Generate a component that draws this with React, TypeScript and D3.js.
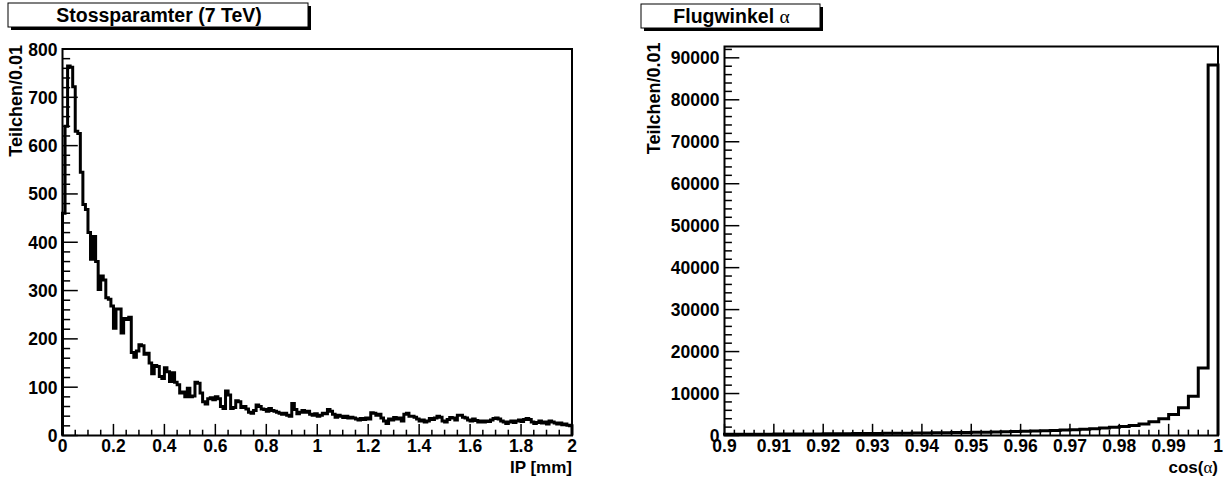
import React from 'react';
import * as d3 from 'd3';

// impact parameter histogram, 200 bins of 0.01 mm
const ipCounts = [
  460, 640, 765, 762, 722, 630, 625, 545, 478, 468,
  420, 365, 412, 360, 302, 330, 322, 285, 282, 268,
  222, 262, 262, 212, 242, 240, 245, 172, 162, 175,
  188, 186, 168, 170, 150, 128, 145, 143, 122, 118,
  140, 132, 112, 130, 110, 105, 88, 90, 80, 98,
  80, 82, 110, 108, 88, 70, 65, 76, 78, 74,
  80, 76, 60, 56, 92, 84, 56, 58, 72, 70,
  58, 60, 55, 48, 46, 52, 63, 60, 55, 54,
  50, 56, 52, 50, 48, 46, 44, 46, 42, 40,
  66, 54, 45, 48, 52, 48, 50, 44, 42, 45,
  40, 42, 46, 45, 54, 50, 44, 38, 42, 40,
  37, 40, 36, 38, 36, 34, 32, 35, 33, 36,
  34, 47, 46, 42, 44, 36, 30, 25, 34, 32,
  37, 34, 36, 30, 44, 46, 40, 40, 38, 34,
  30, 32, 28, 30, 35, 33, 36, 40, 38, 30,
  28, 33, 37, 36, 32, 42, 42, 38, 36, 32,
  30, 34, 31, 28, 30, 28, 30, 29, 32, 35,
  36, 34, 30, 28, 25, 28, 30, 27, 30, 32,
  29, 33, 35, 33, 28, 25, 27, 30, 26, 28,
  24, 30, 28, 26, 24, 26, 22, 24, 21, 20,
];
const ipRange = [0, 2];
const ipMax = 800;
const ipXTicks = [0, 0.2, 0.4, 0.6, 0.8, 1, 1.2, 1.4, 1.6, 1.8, 2];
const ipYTicks = [0, 100, 200, 300, 400, 500, 600, 700, 800];

// cos(alpha) histogram, 50 bins of 0.002
const cosCounts = [
  280, 290, 300, 310, 320, 330, 345, 360, 370, 385,
  400, 415, 430, 450, 470, 490, 510, 530, 555, 580,
  600, 630, 660, 690, 720, 760, 800, 840, 890, 940,
  1000, 1060, 1130, 1210, 1300, 1400, 1510, 1630, 1780, 1950,
  2150, 2400, 2720, 3250, 4000, 5000, 6600, 9350, 16100, 88300,
];
const cosRange = [0.9, 1];
const cosMax = 92700;
const cosXTicks = [0.9, 0.91, 0.92, 0.93, 0.94, 0.95, 0.96, 0.97, 0.98, 0.99, 1];
const cosYTicks = [0, 10000, 20000, 30000, 40000, 50000, 60000, 70000, 80000, 90000];

const FONT = "'Liberation Sans', Arial, Helvetica, sans-serif";
const SERIF = "'Liberation Serif', 'DejaVu Serif', serif";

type PanelProps = {
  counts: number[];
  range: number[];
  yMax: number;
  xTicks: number[];
  yTicks: number[];
  xMinorDiv: number;
  yMinorDiv: number;
  digits: number;
  frame: { left: number; right: number; top: number; bottom: number };
  yTitleX: number;
  xTitle: React.ReactNode;
  title: React.ReactNode;
  titleBox: { x0: number; y0: number; x1: number; y1: number };
};

function Panel(p: PanelProps) {
  const { frame } = p;
  const x = d3.scaleLinear().domain(p.range).range([frame.left, frame.right]);
  const y = d3.scaleLinear().domain([0, p.yMax]).range([frame.bottom, frame.top]);
  const binW = (p.range[1] - p.range[0]) / p.counts.length;

  // step outline like ROOT's default histogram drawing
  const path = d3.path();
  path.moveTo(x(p.range[0]), y(0));
  p.counts.forEach((c, i) => {
    path.lineTo(x(p.range[0] + i * binW), y(c));
    path.lineTo(x(p.range[0] + (i + 1) * binW), y(c));
  });
  path.lineTo(x(p.range[1]), y(0));

  const xMajor = 0.03 * (frame.bottom - frame.top);
  const yMajor = 0.03 * (frame.right - frame.left);

  const xStep = (p.xTicks[1] - p.xTicks[0]) / p.xMinorDiv;
  const xMinor: number[] = [];
  for (let k = 0; k < (p.xTicks.length - 1) * p.xMinorDiv; k++) {
    if (k % p.xMinorDiv !== 0) xMinor.push(p.xTicks[0] + k * xStep);
  }
  const yMajorStep = p.yTicks[1] - p.yTicks[0];
  const yStep = yMajorStep / p.yMinorDiv;
  const yMinor: number[] = [];
  for (let v = yStep; v <= p.yMax; v += yStep) {
    if (Math.abs(v / yMajorStep - Math.round(v / yMajorStep)) > 1e-6) yMinor.push(v);
  }
  const fmt = (v: number) => String(+v.toFixed(p.digits));

  const tb = p.titleBox;
  return (
    <g>
      {/* title pave with shadow */}
      <rect x={tb.x0 + 3} y={tb.y0 + 3} width={tb.x1 - tb.x0} height={tb.y1 - tb.y0} fill="#000" />
      <rect x={tb.x0} y={tb.y0} width={tb.x1 - tb.x0} height={tb.y1 - tb.y0} fill="#fff" stroke="#000" strokeWidth={1} />
      <text x={(tb.x0 + tb.x1) / 2 + 1} y={tb.y1 - 5.5} textAnchor="middle" fontFamily={FONT} fontWeight="bold" fontSize={19.5}>
        {p.title}
      </text>

      {/* histogram */}
      <path d={path.toString()} fill="none" stroke="#000" strokeWidth={3} strokeLinejoin="miter" />

      {/* frame */}
      <rect x={frame.left} y={frame.top} width={frame.right - frame.left} height={frame.bottom - frame.top} fill="none" stroke="#000" strokeWidth={2} />

      {/* x axis ticks */}
      {p.xTicks.map(t => (
        <line key={'xt' + t} x1={x(t)} x2={x(t)} y1={frame.bottom} y2={frame.bottom - xMajor} stroke="#000" strokeWidth={1.5} />
      ))}
      {xMinor.map(t => (
        <line key={'xm' + t} x1={x(t)} x2={x(t)} y1={frame.bottom} y2={frame.bottom - xMajor / 2} stroke="#000" strokeWidth={1.5} />
      ))}
      {p.xTicks.map(t => (
        <text key={'xl' + t} x={x(t)} y={frame.bottom + 16} textAnchor="middle" fontFamily={FONT} fontWeight="bold" fontSize={17.5}>
          {fmt(t)}
        </text>
      ))}

      {/* y axis ticks */}
      {p.yTicks.map(t => (
        <line key={'yt' + t} x1={frame.left} x2={frame.left + yMajor} y1={y(t)} y2={y(t)} stroke="#000" strokeWidth={1.5} />
      ))}
      {yMinor.map(t => (
        <line key={'ym' + t} x1={frame.left} x2={frame.left + yMajor / 2} y1={y(t)} y2={y(t)} stroke="#000" strokeWidth={1.5} />
      ))}
      {p.yTicks.map(t => (
        <text key={'yl' + t} x={frame.left - 5} y={y(t) + 6.5} textAnchor="end" fontFamily={FONT} fontWeight="bold" fontSize={17.5}>
          {t}
        </text>
      ))}

      {/* axis titles */}
      <text x={frame.right} y={frame.bottom + 37} textAnchor="end" fontFamily={FONT} fontWeight="bold" fontSize={17}>
        {p.xTitle}
      </text>
      <text
        transform={`translate(${p.yTitleX},${frame.top - 4}) rotate(-90)`}
        textAnchor="end"
        fontFamily={FONT}
        fontWeight="bold"
        fontSize={18}
      >
        Teilchen/0.01
      </text>
    </g>
  );
}

export default function App() {
  return (
    <svg width={1230} height={479} style={{ position: 'absolute', left: 0, top: 0, background: '#fff' }}>
      <Panel
        counts={ipCounts}
        range={ipRange}
        yMax={ipMax}
        xTicks={ipXTicks}
        yTicks={ipYTicks}
        xMinorDiv={4}
        yMinorDiv={5}
        digits={1}
        frame={{ left: 62.5, right: 572, top: 49, bottom: 435.5 }}
        yTitleX={22}
        xTitle="IP [mm]"
        title="Stossparamter (7 TeV)"
        titleBox={{ x0: 8, y0: 3, x1: 308, y1: 27 }}
      />
      <Panel
        counts={cosCounts}
        range={cosRange}
        yMax={cosMax}
        xTicks={cosXTicks}
        yTicks={cosYTicks}
        xMinorDiv={5}
        yMinorDiv={5}
        digits={2}
        frame={{ left: 724.5, right: 1218, top: 46.5, bottom: 435.5 }}
        yTitleX={660}
        xTitle={<>cos(<tspan fontFamily={SERIF} fontWeight="normal">α</tspan>)</>}
        title={<>Flugwinkel <tspan fontFamily={SERIF} fontWeight="normal">α</tspan></>}
        titleBox={{ x0: 641, y0: 4, x1: 820, y1: 28 }}
      />
    </svg>
  );
}
